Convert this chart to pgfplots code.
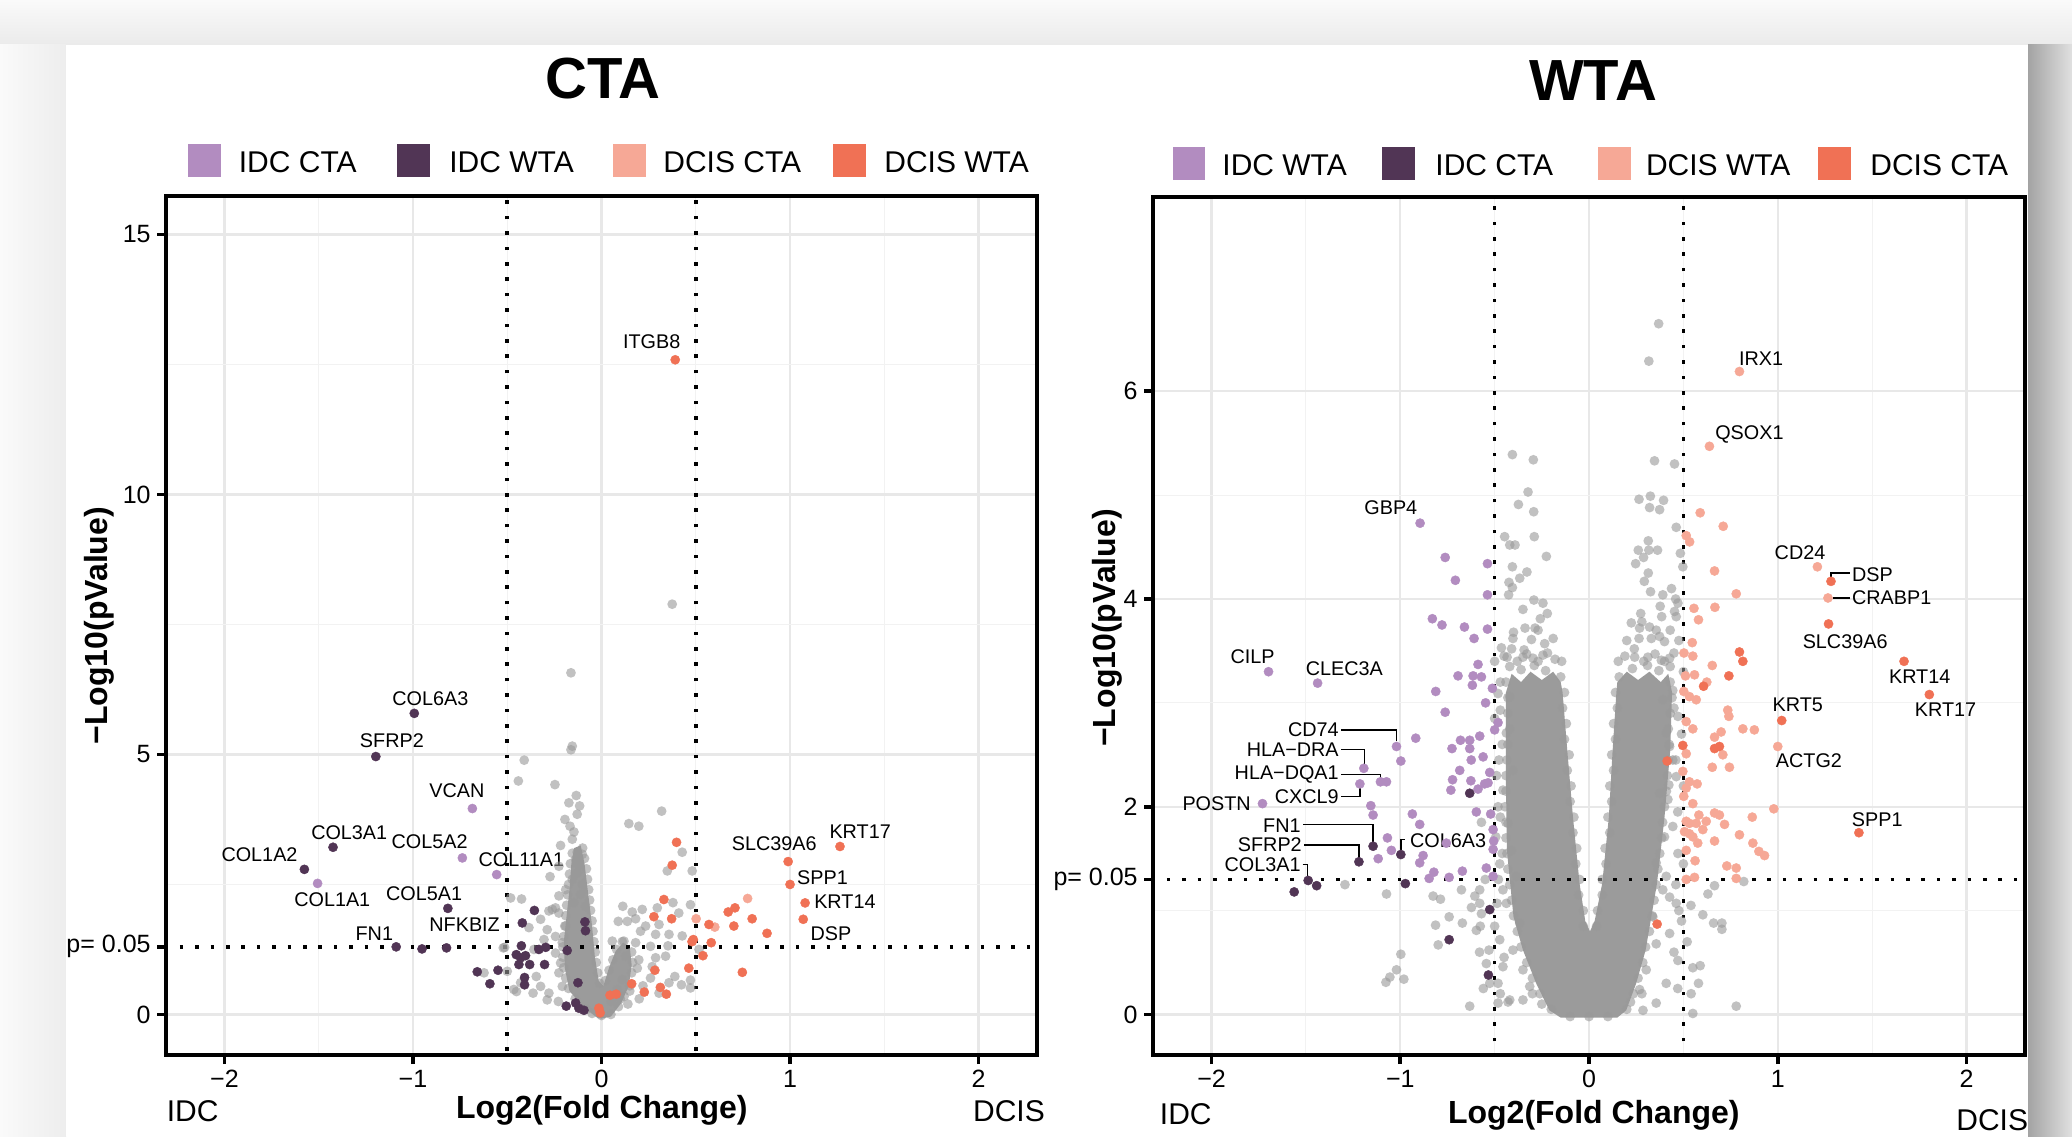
\documentclass[border=0pt]{standalone}
\usepackage{fontspec}
\setmainfont{Liberation Sans}
\usepackage{pgfplots}
\pgfplotsset{compat=1.18}

\definecolor{lpur}{HTML}{B28CC0}
\definecolor{dpur}{HTML}{513555}
\definecolor{lsal}{HTML}{F6A896}
\definecolor{ored}{HTML}{F07155}
\definecolor{gpt}{HTML}{999999}
\definecolor{gcore}{HTML}{9B9B9B}
\definecolor{gmaj}{HTML}{E8E8E8}
\definecolor{gmin}{HTML}{F2F2F2}

\newcommand\gl{\fontsize{9.9}{11}\selectfont}

\tikzset{
  glab/.style={font=\gl, inner sep=0pt, text=black},
  lead/.style={line width=0.7pt, black},
}
\pgfplotsset{
  vbase/.style={
    scale only axis,
    xmin=-2.31, xmax=2.31,
    axis line style={line width=1.8pt, black},
    tick align=outside,
    tick pos=left,
    major tick length=4.5pt,
    minor tick length=0pt,
    tick style={line width=1.8pt, black},
    minor tick num=1,
    grid=both,
    major grid style={line width=1.1pt, color=gmaj},
    minor grid style={line width=0.55pt, color=gmin},
    xtick={-2,-1,0,1,2},
    xticklabels={−2,−1,0,1,2},
    ticklabel style={font=\fontsize{12.5}{14}\selectfont, inner sep=0pt, text=black},
    xticklabel style={yshift=-3pt},
    yticklabel style={xshift=-3pt},
    extra y ticks={1.30103},
    extra y tick labels={p= 0.05},
    extra y tick style={grid=none},
  },
  gpts/.style={only marks, mark=*, mark size=2.45pt, color=gpt, mark options={draw opacity=0, fill=gpt, fill opacity=0.6}},
  cpts/.style={only marks, mark=*, mark size=2.3pt, color=#1, mark options={draw=#1, fill=#1, line width=0.2pt}},
  vline/.style={line width=1.8pt, dash pattern=on 1.8pt off 5.9pt, black},
}

\begin{document}
\begin{tikzpicture}
% ---------- background card ----------
\useasboundingbox (0pt,0pt) rectangle (1036pt,568pt);
\fill[black!4] (0pt,0pt) rectangle (1036pt,568pt);
\shade[top color=black!2, bottom color=black!8] (0pt,545.5pt) rectangle (1036pt,568pt);
\shade[left color=black!2, right color=black!7] (0pt,0pt) rectangle (33pt,545.5pt);
\shade[left color=black!36, right color=black!12] (1014pt,0pt) rectangle (1036pt,545.5pt);
\fill[white] (33pt,0pt) rectangle (1014pt,545.5pt);

% ---------- titles ----------
\node[font=\fontsize{29}{32}\selectfont\bfseries, anchor=base, inner sep=0pt] at (301.3pt,518.9pt) {CTA};
\node[font=\fontsize{29}{32}\selectfont\bfseries, anchor=base, inner sep=0pt] at (796.5pt,517.7pt) {WTA};

% ---------- legends ----------
\fill[lpur] (94pt,479.5pt) rectangle (110.5pt,496pt);
\fill[dpur] (198.5pt,479.5pt) rectangle (215pt,496pt);
\fill[lsal] (306.5pt,479.5pt) rectangle (323pt,496pt);
\fill[ored] (416.5pt,479.5pt) rectangle (433pt,496pt);
\begin{scope}[every node/.style={font=\fontsize{15}{17}\selectfont, anchor=base west, inner sep=0pt}]
\node at (119.25pt,481.85pt) {IDC CTA};
\node at (224.5pt,481.85pt) {IDC WTA};
\node at (331.5pt,481.85pt) {DCIS CTA};
\node at (442pt,481.85pt) {DCIS WTA};
\end{scope}
\fill[lpur] (586.25pt,477.85pt) rectangle (602.7pt,494.65pt);
\fill[dpur] (691pt,477.85pt) rectangle (707.5pt,494.65pt);
\fill[lsal] (799pt,477.85pt) rectangle (815.5pt,494.65pt);
\fill[ored] (909pt,477.85pt) rectangle (925.5pt,494.65pt);
\begin{scope}[every node/.style={font=\fontsize{15}{17}\selectfont, anchor=base west, inner sep=0pt}]
\node at (611pt,480pt) {IDC WTA};
\node at (717.5pt,480pt) {IDC CTA};
\node at (822.8pt,480pt) {DCIS WTA};
\node at (935pt,480pt) {DCIS CTA};
\end{scope}

% ---------- axis titles ----------
\node[font=\fontsize{16}{18}\selectfont\bfseries, anchor=base, inner sep=0pt] at (300.9pt,9pt) {Log2(Fold Change)};
\node[font=\fontsize{16}{18}\selectfont\bfseries, anchor=base, inner sep=0pt] at (796.9pt,6.5pt) {Log2(Fold Change)};
\node[font=\fontsize{15}{17}\selectfont, anchor=base west, inner sep=0pt] at (83.2pt,7.5pt) {IDC};
\node[font=\fontsize{15}{17}\selectfont, anchor=base east, inner sep=0pt] at (522.6pt,7.5pt) {DCIS};
\node[font=\fontsize{15}{17}\selectfont, anchor=base west, inner sep=0pt] at (579.75pt,6pt) {IDC};
\node[font=\fontsize{15}{17}\selectfont, anchor=base west, inner sep=0pt] at (978pt,2.65pt) {DCIS};
\node[font=\fontsize{16}{18}\selectfont\bfseries, rotate=90, anchor=base, inner sep=0pt] at (53.5pt,255.1pt) {−Log10(pValue)};
\node[font=\fontsize{16}{18}\selectfont\bfseries, rotate=90, anchor=base, inner sep=0pt] at (557.5pt,254pt) {−Log10(pValue)};

% ================= CTA =================
\begin{axis}[vbase, at={(83pt,40.5pt)}, anchor=south west,
  width=435.5pt, height=429.5pt,
  ymin=-0.78, ymax=15.74,
  ytick={0,5,10,15}, yticklabels={0,5,10,15}]
% dense core of non-significant genes
\addplot[fill=gcore, draw=none] coordinates {
 (-0.02,-0.07) (-0.09,0.12) (-0.17,0.45) (-0.195,0.9) (-0.2,1.4) (-0.185,1.9) (-0.17,2.4)
 (-0.16,2.9) (-0.145,3.2) (-0.11,3.25) (-0.09,2.9) (-0.07,2.3) (-0.05,1.7) (-0.035,1.1)
 (-0.015,0.65) (0.01,0.55) (0.04,0.9) (0.075,1.22) (0.115,1.38) (0.15,1.3) (0.16,0.95)
 (0.145,0.55) (0.105,0.22) (0.05,-0.04) (0.0,-0.08)};
% non-significant genes
\addplot[gpts] coordinates {
 (0.375,7.89) (-0.162,6.57) (-0.155,5.16) (-0.162,5.09) (-0.410,4.89) (-0.441,4.49) (-0.247,4.42)
 (-0.134,4.21) (-0.173,4.07) (-0.116,4.01) (-0.129,3.85) (0.319,3.91) (0.145,3.67) (0.198,3.62)
 (-0.194,3.75) (-0.167,3.62) (-0.146,3.51) (-0.155,3.37) (-0.217,3.25) (-0.129,3.12) (-0.102,3.08)
 (-0.138,2.98) (-0.226,2.85) (-0.120,2.88) (0.428,3.12) (0.349,2.76) (0.481,2.76)
 (-0.273,2.65) (-0.129,2.72) (-0.155,2.60) (-0.102,2.50) (-0.190,2.40) (-0.111,2.31) (-0.226,2.28)
 (-0.482,2.24) (-0.424,2.22) (-0.146,2.15) (-0.085,2.08) (-0.244,2.05) (-0.279,1.99)
 (0.113,2.08) (0.163,1.97) (0.216,2.02) (0.296,2.05) (0.379,2.15) (0.472,2.11) (0.410,1.95)
 (0.089,1.79) (0.137,1.79) (0.181,1.84) (0.234,1.70) (0.305,1.73) (0.207,1.60) (0.287,1.54)
 (0.358,1.54) (0.428,1.51) (0.057,1.41) (0.119,1.41) (0.181,1.38) (0.260,1.31) (0.353,1.32)
 (0.517,1.25) (0.128,1.12) (0.198,1.05) (0.287,1.09) (0.340,1.12) (0.190,0.89) (0.269,0.92)
 (0.389,0.73) (0.424,0.57) (0.472,0.66) (0.472,0.51) (0.358,0.61) (0.260,0.70) (0.305,0.41)
 (0.110,0.67) (0.083,0.48) (0.05,0.25) (0.10,0.30) (0.15,0.45) (0.20,0.30) (0.14,0.20) (0.22,0.55)
 (-0.521,1.28) (-0.385,1.67) (-0.323,1.83) (-0.261,2.02) (-0.288,1.63) (-0.305,1.44) (-0.244,1.50)
 (-0.358,1.25) (-0.346,0.73) (-0.323,0.54) (-0.279,0.41) (-0.288,0.28) (-0.363,0.41) (-0.465,0.48)
 (-0.429,0.61) (-0.500,0.83) (-0.623,0.80) (-0.229,0.25) (-0.208,0.54) (-0.226,0.80) (-0.217,0.99)
 (-0.244,1.18) (-0.208,1.38) (-0.190,1.70) (-0.226,1.95) (-0.451,0.44) (-0.514,1.29)
 (-0.08,0.1) (-0.14,0.3) (-0.175,0.5) (-0.19,0.7) (-0.2,0.9) (-0.205,1.1) (-0.205,1.3) (-0.2,1.5)
 (-0.195,1.7) (-0.19,1.9) (-0.185,2.1) (-0.18,2.3) (-0.175,2.5) (-0.17,2.7) (-0.165,2.9) (-0.155,3.1)
 (-0.01,0.6) (-0.02,0.8) (-0.028,1.0) (-0.033,1.2) (-0.04,1.4) (-0.045,1.6) (-0.05,1.8) (-0.058,2.0)
 (-0.063,2.2) (-0.068,2.4) (-0.074,2.6) (-0.08,2.8) (-0.09,3.0) (-0.1,3.2)
 (0.02,0.65) (0.04,0.85) (0.06,1.05) (0.08,1.25) (0.11,1.4) (0.16,1.2) (0.165,1.0) (0.16,0.8)
 (0.15,0.55) (0.12,0.35) (0.09,0.15) (0.05,0.0) (-0.05,0.02) (0.0,-0.02)
};
% IDC CTA
\addplot[cpts=lpur] coordinates {(-0.685,3.96) (-0.738,3.01) (-0.556,2.69) (-1.506,2.52)};
% IDC WTA
\addplot[cpts=dpur] coordinates {
 (-0.993,5.79) (-1.197,4.96) (-1.424,3.215) (-1.576,2.79) (-0.815,2.04) (-1.089,1.30) (-0.952,1.26)
 (-0.822,1.28) (-0.356,2.00) (-0.420,1.76) (-0.088,1.78) (-0.085,1.61) (-0.425,1.32) (-0.332,1.25)
 (-0.296,1.29) (-0.182,1.23) (-0.452,1.15) (-0.403,1.13) (-0.438,0.96) (-0.381,0.96) (-0.429,1.09)
 (-0.302,0.96) (-0.659,0.82) (-0.549,0.85) (-0.592,0.59) (-0.408,0.71) (-0.408,0.57) (-0.125,0.61)
 (-0.187,0.16) (-0.137,0.22) (-0.120,0.12) (-0.093,0.08)};
% DCIS CTA
\addplot[cpts=lsal] coordinates {(0.502,1.84) (0.601,1.68) (0.775,2.23)};
% DCIS WTA
\addplot[cpts=ored] coordinates {
 (0.391,12.59) (1.265,3.23) (0.99,2.94) (1.00,2.50) (1.08,2.145) (1.07,1.83) (0.398,3.31) (0.375,2.87)
 (0.331,2.21) (0.278,1.88) (0.372,1.84) (0.570,1.73) (0.487,1.44) (0.48,1.40) (0.582,1.38) (0.672,1.97)
 (0.708,2.05) (0.702,1.70) (0.799,1.84) (0.878,1.56) (0.538,1.13) (0.463,0.89) (0.283,0.85)
 (0.747,0.81) (0.160,0.59) (0.227,0.43) (0.312,0.52) (0.344,0.39) (0.045,0.37) (0.078,0.39)
 (-0.014,0.12) (-0.007,0.03)};
% thresholds
\addplot[vline] coordinates {(-0.5,-1) (-0.5,16)};
\addplot[vline] coordinates {(0.5,-1) (0.5,16)};
\addplot[vline] coordinates {(-2.4,1.30103) (2.4,1.30103)};
% labels
\node[glab] at (axis cs:-0.908,6.08) {COL6A3};
\node[glab] at (axis cs:-1.112,5.27) {SFRP2};
\node[glab] at (axis cs:-0.767,4.30) {VCAN};
\node[glab] at (axis cs:-1.338,3.50) {COL3A1};
\node[glab] at (axis cs:-0.912,3.32) {COL5A2};
\node[glab] at (axis cs:-1.814,3.07) {COL1A2};
\node[glab] at (axis cs:-0.425,2.97) {COL11A1};
\node[glab] at (axis cs:-1.428,2.21) {COL1A1};
\node[glab] at (axis cs:-0.941,2.33) {COL5A1};
\node[glab] at (axis cs:-0.726,1.73) {NFKBIZ};
\node[glab] at (axis cs:-1.205,1.55) {FN1};
\node[glab] at (axis cs:0.266,12.93) {ITGB8};
\node[glab] at (axis cs:0.916,3.28) {SLC39A6};
\node[glab] at (axis cs:1.372,3.52) {KRT17};
\node[glab] at (axis cs:1.172,2.63) {SPP1};
\node[glab] at (axis cs:1.291,2.16) {KRT14};
\node[glab] at (axis cs:1.217,1.56) {DSP};
\end{axis}

% ================= WTA =================
\begin{axis}[vbase, at={(576.5pt,40.5pt)}, anchor=south west,
  width=436pt, height=429pt,
  ymin=-0.39, ymax=7.87,
  ytick={0,2,4,6}, yticklabels={0,2,4,6}]
\addplot[fill=gcore, draw=none] coordinates {
 (-0.15,-0.03) (-0.21,0.04) (-0.28,0.30) (-0.35,0.62) (-0.40,0.94) (-0.435,1.58) (-0.44,2.22)
 (-0.44,2.87) (-0.44,3.1) (-0.41,3.28) (-0.36,3.2) (-0.31,3.3) (-0.25,3.22) (-0.19,3.3) (-0.15,3.2)
 (-0.14,3.1) (-0.115,2.54) (-0.085,1.9) (-0.05,1.26) (-0.02,0.9) (0.005,0.8) (0.03,0.9)
 (0.07,1.26) (0.105,1.9) (0.125,2.54) (0.145,3.1) (0.15,3.2) (0.2,3.3) (0.26,3.22) (0.32,3.3)
 (0.38,3.2) (0.42,3.28) (0.44,3.1) (0.43,2.54) (0.40,1.90) (0.36,1.26) (0.30,0.62) (0.25,0.30)
 (0.197,0.04) (0.15,-0.03)};
\addplot[gpts] coordinates {
 (0.369,6.65) (0.317,6.29) (-0.406,5.39) (-0.295,5.34) (0.347,5.33) (0.453,5.30)
 (-0.323,5.03) (-0.374,4.91) (-0.293,4.84) (0.265,4.96) (0.325,4.99) (0.395,4.95) (0.321,4.88) (0.374,4.86)
 (-0.447,4.60) (-0.290,4.60) (-0.420,4.52) (-0.392,4.52) (-0.226,4.41) (-0.406,4.31) (-0.329,4.26)
 (-0.367,4.20) (-0.424,4.16) (-0.406,4.11) (-0.426,4.04)
 (0.462,4.69) (0.314,4.56) (0.261,4.47) (0.317,4.47) (0.363,4.47) (0.247,4.34) (0.289,4.40) (0.484,4.44)
 (0.314,4.25) (0.293,4.17) (0.497,4.31) (0.326,4.07) (0.437,4.10) (0.391,4.04) (0.459,4.00) (0.471,3.96)
 (-0.292,3.99) (-0.244,3.96) (-0.221,3.86) (-0.350,3.90) (-0.339,3.72) (-0.286,3.72) (-0.258,3.81)
 (0.274,3.86) (0.224,3.77) (0.377,3.93) (0.385,3.83) (0.453,3.88) (0.462,3.83) (0.268,3.72) (0.321,3.73) (0.356,3.70)
 (-0.464,3.53) (-0.434,3.44) (-0.403,3.62) (-0.344,3.51) (-0.305,3.61) (-0.235,3.57) (-0.350,3.44) (-0.297,3.43) (-0.244,3.46)
 (0.265,3.62) (0.374,3.64) (0.400,3.59) (0.242,3.44) (0.312,3.44) (0.383,3.41) (0.427,3.43) (0.476,3.60)
 (-0.482,3.09) (-0.470,2.93) (-0.477,2.45) (-0.456,2.16) (-0.482,2.00) (-0.494,1.71) (-0.473,1.45)
 (-0.456,1.20) (-0.487,1.07) (-0.473,0.72) (-0.456,0.46) (-0.482,0.30) (-0.420,0.14) (-0.350,0.14) (-0.429,0.12)
 (0.444,3.12) (0.471,2.87) (0.427,2.58) (0.462,2.29) (0.418,2.07) (0.444,1.81) (0.471,1.55) (0.409,1.33)
 (0.462,1.07) (0.427,0.78) (0.471,0.52) (0.409,0.30) (0.356,0.11) (0.286,0.04)
 (-0.420,3.06) (-0.438,2.71) (-0.403,2.35) (-0.429,1.84) (-0.411,1.58) (-0.385,1.33) (-0.438,1.07)
 (-0.367,0.88) (-0.403,0.62) (-0.350,0.43) (-0.314,0.27)
 (0.391,3.03) (0.409,2.71) (0.444,2.45) (0.374,2.13) (0.400,1.71) (0.356,1.46) (0.391,1.20) (0.338,0.94)
 (0.356,0.68) (0.303,0.43) (0.268,0.24)
 (-1.293,1.25) (-1.073,1.16) (-0.826,1.14) (-0.787,1.11) (-0.676,1.20) (-0.623,1.03) (-0.605,1.14)
 (-0.579,1.20) (-0.741,0.94) (-0.671,0.88) (-0.813,0.86) (-0.799,0.67) (-0.576,0.85) (-0.997,0.58)
 (-1.020,0.43) (-1.055,0.36) (-1.076,0.31) (-0.981,0.34) (-0.632,0.08)
 (-0.579,1.07) (-0.570,0.97) (-0.597,0.81) (-0.530,0.62) (-0.544,0.49) (-0.526,0.30) (-0.482,0.11)
 (0.665,1.24) (0.630,1.16) (0.820,1.28) (0.603,0.96) (0.660,0.88) (0.704,0.88) (0.704,0.82) (0.589,0.47)
 (0.780,0.08) (0.550,0.01) (0.427,1.13) (0.476,1.00) (0.423,2.21) (0.541,0.20)
 (-0.2,0.05) (-0.26,0.2) (-0.30,0.35) (-0.33,0.5) (-0.36,0.65) (-0.38,0.8) (-0.40,0.95) (-0.41,1.1)
 (-0.42,1.25) (-0.43,1.4) (-0.435,1.55) (-0.44,1.7) (-0.44,1.85) (-0.445,2.0) (-0.44,2.15) (-0.44,2.3)
 (-0.435,2.45) (-0.43,2.6) (-0.42,2.75) (-0.43,2.9) (-0.43,3.05) (-0.44,3.2) (-0.42,3.35)
 (-0.03,0.85) (-0.03,1.0) (-0.055,1.15) (-0.05,1.3) (-0.07,1.45) (-0.065,1.6) (-0.085,1.75) (-0.08,1.9)
 (-0.1,2.05) (-0.095,2.2) (-0.115,2.35) (-0.105,2.5) (-0.13,2.65) (-0.12,2.8) (-0.14,2.95) (-0.13,3.1)
 (-0.15,3.25) (-0.145,3.4)
 (0.04,0.85) (0.045,1.0) (0.07,1.15) (0.07,1.3) (0.09,1.45) (0.085,1.6) (0.11,1.75) (0.1,1.9)
 (0.12,2.05) (0.11,2.2) (0.13,2.35) (0.12,2.5) (0.14,2.65) (0.13,2.8) (0.15,2.95) (0.14,3.1)
 (0.16,3.25) (0.155,3.4)
 (0.2,0.05) (0.235,0.2) (0.26,0.35) (0.285,0.5) (0.30,0.65) (0.32,0.8) (0.335,0.95) (0.345,1.1)
 (0.355,1.25) (0.365,1.4) (0.375,1.55) (0.385,1.7) (0.39,1.85) (0.40,2.0) (0.41,2.15) (0.415,2.3)
 (0.42,2.45) (0.425,2.6) (0.42,2.75) (0.43,2.9) (0.44,3.05) (0.43,3.2) (0.43,3.35)
 (-0.47,0.2) (-0.45,0.55) (-0.5,0.85) (-0.48,1.3) (-0.46,1.55) (-0.47,1.9) (-0.49,2.3) (-0.46,2.6)
 (-0.5,2.85) (-0.47,3.2) (-0.5,3.4) (-0.56,0.25) (-0.58,0.6) (-0.55,1.3) (-0.57,1.85)
 (0.47,0.25) (0.45,0.6) (0.49,0.9) (0.46,1.25) (0.5,1.45) (0.47,1.95) (0.5,2.2) (0.46,2.45) (0.49,2.7)
 (0.45,2.95) (0.5,3.3) (0.52,0.7) (0.55,0.45) (0.58,0.3) (0.54,1.05)
 (-0.45,3.45) (-0.41,3.52) (-0.38,3.40) (-0.33,3.47) (-0.27,3.40) (-0.22,3.48) (-0.18,3.42)
 (-0.40,3.68) (-0.27,3.70) (-0.19,3.62) (-0.36,3.32) (-0.29,3.36) (-0.23,3.31)
 (0.19,3.45) (0.24,3.52) (0.29,3.40) (0.35,3.47) (0.40,3.40) (0.45,3.48) (0.20,3.60) (0.33,3.62)
 (0.43,3.70) (0.28,3.78) (0.23,3.33) (0.31,3.36) (0.37,3.31)
 (-0.1,-0.02) (0.0,-0.02) (0.1,-0.02) (-0.25,0.1) (0.22,0.12) (-0.3,0.2) (0.28,0.2)
};
% IDC WTA
\addplot[cpts=lpur] coordinates {
 (-0.895,4.73) (-0.762,4.40) (-0.538,4.34) (-0.708,4.18) (-0.538,4.04) (-0.830,3.81) (-0.779,3.75)
 (-0.660,3.73) (-0.538,3.71) (-0.609,3.62) (-0.588,3.37) (-1.698,3.30) (-1.438,3.19)
 (-0.694,3.26) (-0.614,3.26) (-0.570,3.25) (-0.618,3.17) (-0.512,3.14) (-0.812,3.11) (-0.548,3.00)
 (-0.762,2.91) (-0.482,2.81) (-0.500,2.74) (-0.918,2.66) (-1.020,2.58) (-0.997,2.44)
 (-0.681,2.64) (-0.632,2.64) (-0.579,2.68) (-0.726,2.56) (-0.632,2.56) (-0.624,2.45) (-0.561,2.48)
 (-0.526,2.33) (-0.685,2.35) (-0.723,2.26) (-0.626,2.25) (-0.732,2.16) (-0.588,2.17) (-0.553,2.22) (-0.535,2.23)
 (-1.193,2.37) (-1.105,2.24) (-1.073,2.24) (-1.214,2.22) (-1.156,2.01) (-1.144,1.92) (-1.730,2.03)
 (-0.597,1.95) (-0.521,1.93) (-0.936,1.93) (-0.897,1.83) (-1.068,1.70) (-1.047,1.58) (-1.117,1.50)
 (-0.879,1.53) (-0.897,1.46) (-0.756,1.65) (-0.508,1.78) (-0.505,1.67) (-0.508,1.59) (-0.822,1.37)
 (-0.671,1.38) (-0.847,1.31) (-0.741,1.32) (-0.544,1.41) (-0.508,1.33)};
% IDC CTA
\addplot[cpts=dpur] coordinates {
 (-0.632,2.13) (-1.144,1.62) (-1.219,1.47) (-0.997,1.54) (-1.488,1.29) (-1.443,1.24) (-1.562,1.18)
 (-0.973,1.26) (-0.526,1.01) (-0.741,0.72) (-0.533,0.38)};
% DCIS WTA
\addplot[cpts=lsal] coordinates {
 (0.797,6.19) (0.638,5.47) (1.210,4.31) (1.266,4.01) (1.000,2.58)
 (0.589,4.83) (0.711,4.70) (0.515,4.61) (0.533,4.55) (0.665,4.27) (0.780,4.05) (0.556,3.91) (0.667,3.92)
 (0.580,3.80) (0.547,3.58) (0.503,3.48) (0.550,3.45) (0.653,3.36)
 (0.511,3.26) (0.559,3.27) (0.624,3.20) (0.502,3.11) (0.532,3.06) (0.568,3.03) (0.735,2.93) (0.741,2.87)
 (0.515,2.82) (0.550,2.75) (0.815,2.75) (0.876,2.74) (0.700,2.72) (0.665,2.67) (0.709,2.50) (0.515,2.51)
 (0.653,2.38) (0.744,2.38) (0.497,2.34) (0.532,2.24) (0.573,2.22) (0.515,2.18) (0.502,2.10) (0.550,2.03)
 (0.979,1.98) (0.665,1.94) (0.691,1.92) (0.865,1.90) (0.582,1.92) (0.621,1.86) (0.568,1.84) (0.515,1.86)
 (0.532,1.84) (0.718,1.83) (0.603,1.78) (0.506,1.76) (0.532,1.74) (0.797,1.73) (0.550,1.71) (0.665,1.67)
 (0.868,1.65) (0.576,1.65) (0.515,1.58) (0.900,1.57) (0.930,1.53) (0.562,1.48) (0.730,1.43) (0.780,1.41)
 (0.780,1.31) (0.515,1.30) (0.559,1.32)};
% DCIS CTA
\addplot[cpts=ored] coordinates {
 (1.282,4.17) (1.269,3.76) (1.669,3.40) (1.803,3.08) (1.021,2.83) (1.430,1.75) (0.797,3.49) (0.815,3.40)
 (0.741,3.26) (0.607,3.16) (0.497,2.59) (0.414,2.44) (0.691,2.58) (0.665,2.56) (0.361,0.87)};
% thresholds
\addplot[vline] coordinates {(-0.5,-1) (-0.5,9)};
\addplot[vline] coordinates {(0.5,-1) (0.5,9)};
\addplot[vline] coordinates {(-2.4,1.30103) (2.4,1.30103)};
% leader lines
\draw[lead] (axis cs:-1.312,2.74) -- (axis cs:-1.020,2.74) -- (axis cs:-1.020,2.63);
\draw[lead] (axis cs:-1.312,2.55) -- (axis cs:-1.19,2.55) -- (axis cs:-1.19,2.41);
\draw[lead] (axis cs:-1.312,2.31) -- (axis cs:-1.105,2.31) -- (axis cs:-1.105,2.27);
\draw[lead] (axis cs:-1.312,2.10) -- (axis cs:-1.214,2.10) -- (axis cs:-1.214,2.19);
\draw[lead] (axis cs:-1.515,1.83) -- (axis cs:-1.144,1.83) -- (axis cs:-1.144,1.66);
\draw[lead] (axis cs:-1.510,1.63) -- (axis cs:-1.219,1.63) -- (axis cs:-1.219,1.51);
\draw[lead] (axis cs:-1.518,1.445) -- (axis cs:-1.49,1.445) -- (axis cs:-1.49,1.33);
\draw[lead] (axis cs:-0.976,1.686) -- (axis cs:-0.997,1.686) -- (axis cs:-0.997,1.583);
\draw[lead] (axis cs:1.282,4.20) -- (axis cs:1.282,4.25) -- (axis cs:1.385,4.25);
\draw[lead] (axis cs:1.29,4.01) -- (axis cs:1.385,4.01);
% labels
\node[glab] at (axis cs:-1.782,3.44) {CILP};
\node[glab] at (axis cs:-1.296,3.33) {CLEC3A};
\node[glab, anchor=east] at (axis cs:-1.324,2.74) {CD74};
\node[glab, anchor=east] at (axis cs:-1.324,2.55) {HLA−DRA};
\node[glab, anchor=east] at (axis cs:-1.324,2.31) {HLA−DQA1};
\node[glab, anchor=east] at (axis cs:-1.324,2.10) {CXCL9};
\node[glab] at (axis cs:-1.973,2.03) {POSTN};
\node[glab, anchor=east] at (axis cs:-1.526,1.82) {FN1};
\node[glab, anchor=east] at (axis cs:-1.520,1.63) {SFRP2};
\node[glab, anchor=east] at (axis cs:-1.526,1.445) {COL3A1};
\node[glab, anchor=west] at (axis cs:-0.950,1.67) {COL6A3};
\node[glab] at (axis cs:-1.050,4.88) {GBP4};
\node[glab] at (axis cs:0.912,6.31) {IRX1};
\node[glab] at (axis cs:0.850,5.58) {QSOX1};
\node[glab] at (axis cs:1.118,4.45) {CD24};
\node[glab, anchor=west] at (axis cs:1.392,4.23) {DSP};
\node[glab, anchor=west] at (axis cs:1.392,4.01) {CRABP1};
\node[glab] at (axis cs:1.357,3.59) {SLC39A6};
\node[glab] at (axis cs:1.752,3.25) {KRT14};
\node[glab] at (axis cs:1.889,2.93) {KRT17};
\node[glab] at (axis cs:1.106,2.98) {KRT5};
\node[glab] at (axis cs:1.165,2.44) {ACTG2};
\node[glab] at (axis cs:1.527,1.88) {SPP1};
\end{axis}
\end{tikzpicture}
\end{document}
